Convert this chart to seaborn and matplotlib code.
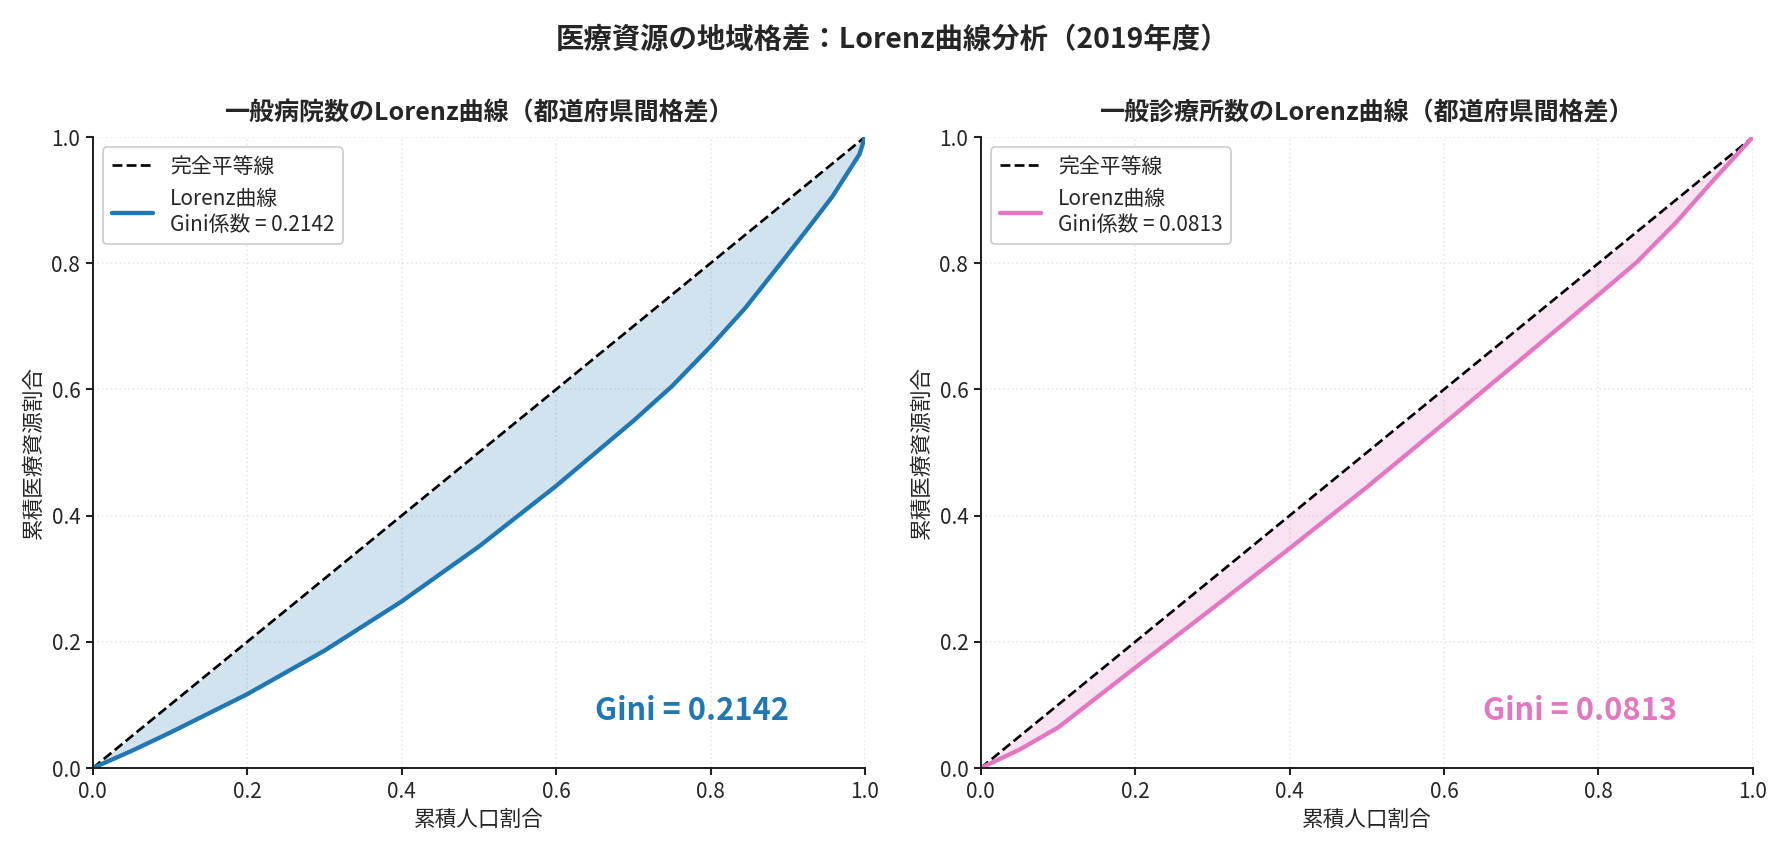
import numpy as np
import pandas as pd
import matplotlib
matplotlib.use("Agg")
import matplotlib.pyplot as plt
import seaborn as sns

sns.set_theme(style="ticks")
plt.rcParams["font.family"] = ["Noto Sans CJK JP", "DejaVu Sans"]
plt.rcParams["axes.unicode_minus"] = False

# equality line
eq_x = [0.0, 1.0]
eq_y = [0.0, 1.0]

# 一般病院数
hosp_x = [0.0, 0.05, 0.1, 0.2, 0.3, 0.4, 0.5, 0.6, 0.7, 0.75, 0.8, 0.845, 0.891, 0.928, 0.958, 0.98, 0.993, 1.0]
hosp_y = [0.0, 0.027, 0.056, 0.117, 0.186, 0.264, 0.351, 0.447, 0.550, 0.605, 0.668, 0.729, 0.800, 0.858, 0.906, 0.948, 0.973, 1.0]
hosp_gini = 0.2142

# 一般診療所数
clinic_x = [0.0, 0.05, 0.1, 0.2, 0.3, 0.4, 0.5, 0.6, 0.7, 0.8, 0.85, 0.9, 0.95, 1.0]
clinic_y = [0.0, 0.029, 0.064, 0.159, 0.253, 0.348, 0.445, 0.546, 0.648, 0.750, 0.802, 0.864, 0.933, 1.0]
clinic_gini = 0.0813

panels = [
    ("一般病院数のLorenz曲線（都道府県間格差）", hosp_x, hosp_y, hosp_gini, "#1f77b4"),
    ("一般診療所数のLorenz曲線（都道府県間格差）", clinic_x, clinic_y, clinic_gini, "#e377c2"),
]

fig, axes = plt.subplots(1, 2, figsize=(14.875, 7.075), dpi=120)
fig.subplots_adjust(left=0.052, right=0.982, bottom=0.0954, top=0.8386, wspace=0.15)

for ax, (title, xs, ys, gini, color) in zip(axes, panels):
    df = pd.DataFrame({"x": xs, "y": ys})
    ax.plot(eq_x, eq_y, color="black", linestyle="--", linewidth=1.6, label="完全平等線")
    sns.lineplot(data=df, x="x", y="y", ax=ax, color=color, linewidth=2.6,
                 estimator=None, sort=False,
                 label=f"Lorenz曲線\nGini係数 = {gini:.4f}")
    ax.fill_between(df["x"], df["x"], df["y"], color=color, alpha=0.2, linewidth=0)
    ax.text(0.65, 0.076, f"Gini = {gini:.4f}", fontsize=18.5, fontweight="bold", color=color)
    ax.set_xlim(0, 1); ax.set_ylim(0, 1)
    ax.set_xticks(np.arange(0, 1.01, 0.2)); ax.set_yticks(np.arange(0, 1.01, 0.2))
    ax.set_title(title, fontsize=15, fontweight="bold", pad=10)
    ax.set_xlabel("累積人口割合", fontsize=13)
    ax.set_ylabel("累積医療資源割合", fontsize=13)
    ax.tick_params(labelsize=12.5, length=4, color="#222222")
    ax.grid(True, linestyle=":", alpha=0.35, color="#bbbbbb")
    for s in ["left", "bottom"]:
        ax.spines[s].set_color("#222222")
        ax.spines[s].set_linewidth(1.2)
    sns.despine(ax=ax)
    ax.legend(loc="upper left", fontsize=12.5, frameon=True, edgecolor="#cccccc", framealpha=1)

fig.suptitle("医療資源の地域格差：Lorenz曲線分析（2019年度）", fontsize=17, fontweight="bold", y=0.97)

plt.savefig("out.png", dpi=120)
plt.close()
